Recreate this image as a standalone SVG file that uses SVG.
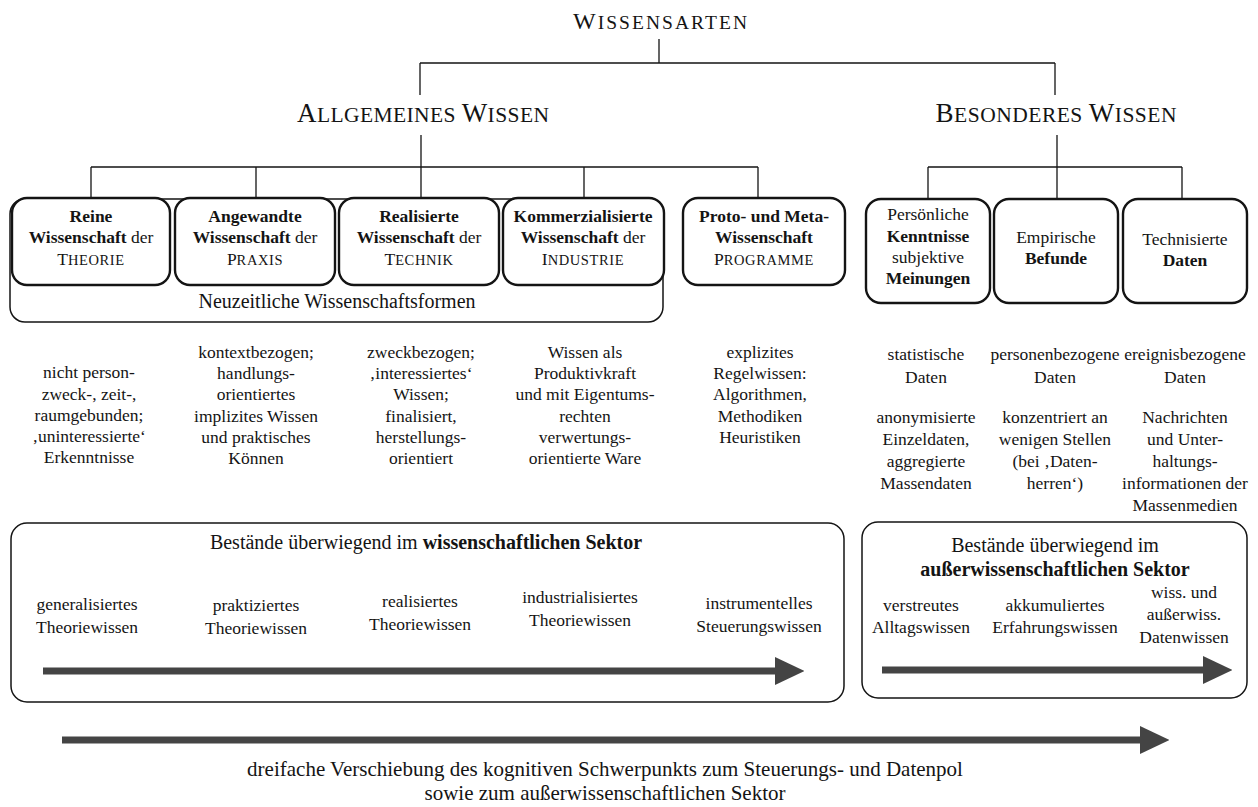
<svg xmlns="http://www.w3.org/2000/svg" width="1258" height="807" viewBox="0 0 1258 807">
<defs>
<style>
text{font-family:"Liberation Serif","Times New Roman",serif;fill:#141414;text-anchor:middle;font-size:17.5px}
.b{font-weight:bold}
.sc{font-size:14.5px;letter-spacing:0.6px}
.h{font-size:21.5px}
.hb{font-size:27px}
.m{font-size:20px}
.cap{font-size:21px}
.ln{fill:none;stroke:#141414;stroke-width:1.3}
.node{fill:#fff;stroke:#141414;stroke-width:2.4}
.frame{fill:#fff;stroke:#141414;stroke-width:1.5}
.arr{stroke:#444;stroke-width:7;fill:none;marker-end:url(#head)}
</style>
<marker id="head" markerUnits="strokeWidth" markerWidth="4.2" markerHeight="4" refX="0" refY="2" orient="auto" viewBox="0 0 4.2 4"><path d="M0,0 L4.2,2 L0,4 z" fill="#444"/></marker>
</defs>
<rect width="1258" height="807" fill="#fff"/>

<!-- headings -->
<g id="wissensarten">
<text x="660" y="29" style="font-size:19.5px" textLength="174" lengthAdjust="spacing"><tspan style="font-size:24px">W</tspan>ISSENSARTEN</text>
</g>
<g id="allgemeines-wissen">
<text class="h" x="423" y="122" textLength="252" lengthAdjust="spacing"><tspan class="hb">A</tspan>LLGEMEINES <tspan class="hb">W</tspan>ISSEN</text>
</g>
<g id="besonderes-wissen">
<text class="h" x="1056" y="122" textLength="241" lengthAdjust="spacing"><tspan class="hb">B</tspan>ESONDERES <tspan class="hb">W</tspan>ISSEN</text>
</g>

<!-- tree connectors -->
<g id="connectors" class="ln">
<path d="M659,39 V63 M420,63 H1055 M420,63 V95 M1055,63 V95"/>
<path d="M421,135 V198 M91,167 H758 M91,167 V198 M256,167 V198 M584,167 V198 M758,167 V198"/>
<path d="M1057,135 V199 M928,167 H1182 M928,167 V199 M1182,167 V199"/>
</g>

<!-- bracket for the modern forms of science -->
<g id="neuzeitliche-formen">
<rect class="frame" x="10" y="199" width="653" height="123" rx="15"/>
<text class="m" x="337" y="308">Neuzeitliche Wissenschaftsformen</text>
</g>

<g id="reine-wissenschaft">
<rect class="node" x="12" y="198" width="158" height="87" rx="15"/>
<text x="91" y="222" class="b">Reine</text>
<text x="91" y="243"><tspan class="b">Wissenschaft</tspan> der</text>
<text x="91" y="265">T<tspan class="sc">HEORIE</tspan></text>
</g>
<g id="angewandte-wissenschaft">
<rect class="node" x="175" y="198" width="160" height="87" rx="15"/>
<text x="255" y="222" class="b">Angewandte</text>
<text x="255" y="243"><tspan class="b">Wissenschaft</tspan> der</text>
<text x="255" y="265">P<tspan class="sc">RAXIS</tspan></text>
</g>
<g id="realisierte-wissenschaft">
<rect class="node" x="339" y="198" width="160" height="87" rx="15"/>
<text x="419" y="222" class="b">Realisierte</text>
<text x="419" y="243"><tspan class="b">Wissenschaft</tspan> der</text>
<text x="419" y="265">T<tspan class="sc">ECHNIK</tspan></text>
</g>
<g id="kommerzialisierte-wissenschaft">
<rect class="node" x="503" y="198" width="161" height="87" rx="15"/>
<text x="583" y="222" class="b">Kommerzialisierte</text>
<text x="583" y="243"><tspan class="b">Wissenschaft</tspan> der</text>
<text x="583" y="265">I<tspan class="sc">NDUSTRIE</tspan></text>
</g>
<g id="proto-meta-wissenschaft">
<rect class="node" x="683" y="198" width="162" height="87" rx="15"/>
<text x="764" y="222" class="b">Proto- und Meta-</text>
<text x="764" y="243" class="b">Wissenschaft</text>
<text x="764" y="265">P<tspan class="sc">ROGRAMME</tspan></text>
</g>

<g id="kenntnisse-meinungen">
<rect class="node" x="866" y="199" width="124" height="104" rx="15"/>
<text x="928" y="220">Persönliche</text>
<text x="928" y="242" class="b">Kenntnisse</text>
<text x="928" y="263">subjektive</text>
<text x="928" y="284" class="b">Meinungen</text>
</g>
<g id="empirische-befunde">
<rect class="node" x="994" y="199" width="124" height="104" rx="15"/>
<text x="1056" y="243">Empirische</text>
<text x="1056" y="264" class="b">Befunde</text>
</g>
<g id="technisierte-daten">
<rect class="node" x="1123" y="199" width="124" height="104" rx="15"/>
<text x="1185" y="245">Technisierte</text>
<text x="1185" y="266" class="b">Daten</text>
</g>

<!-- characterisations -->
<g id="merkmale-theorie">
<text x="89" y="378">nicht person-</text>
<text x="89" y="399.5">zweck-, zeit-,</text>
<text x="89" y="421">raumgebunden;</text>
<text x="89" y="442">‚uninteressierte‘</text>
<text x="89" y="463">Erkenntnisse</text>
</g>
<g id="merkmale-praxis">
<text x="256" y="358">kontextbezogen;</text>
<text x="256" y="379">handlungs-</text>
<text x="256" y="400">orientiertes</text>
<text x="256" y="422">implizites Wissen</text>
<text x="256" y="443">und praktisches</text>
<text x="256" y="464">Können</text>
</g>
<g id="merkmale-technik">
<text x="421" y="358">zweckbezogen;</text>
<text x="421" y="379">‚interessiertes‘</text>
<text x="421" y="400">Wissen;</text>
<text x="421" y="422">finalisiert,</text>
<text x="421" y="443">herstellungs-</text>
<text x="421" y="464">orientiert</text>
</g>
<g id="merkmale-industrie">
<text x="585" y="358">Wissen als</text>
<text x="585" y="379">Produktivkraft</text>
<text x="585" y="400">und mit Eigentums-</text>
<text x="585" y="422">rechten</text>
<text x="585" y="443">verwertungs-</text>
<text x="585" y="464">orientierte Ware</text>
</g>
<g id="merkmale-programme">
<text x="760" y="358">explizites</text>
<text x="760" y="379">Regelwissen:</text>
<text x="760" y="400">Algorithmen,</text>
<text x="760" y="422">Methodiken</text>
<text x="760" y="443">Heuristiken</text>
</g>
<g id="merkmale-kenntnisse">
<text x="926" y="360">statistische</text>
<text x="926" y="383">Daten</text>
<text x="926" y="423">anonymisierte</text>
<text x="926" y="445">Einzeldaten,</text>
<text x="926" y="467">aggregierte</text>
<text x="926" y="489">Massendaten</text>
</g>
<g id="merkmale-befunde">
<text x="1055" y="360">personenbezogene</text>
<text x="1055" y="383">Daten</text>
<text x="1055" y="423">konzentriert an</text>
<text x="1055" y="445">wenigen Stellen</text>
<text x="1055" y="467">(bei ‚Daten-</text>
<text x="1055" y="489">herren‘)</text>
</g>
<g id="merkmale-daten">
<text x="1185" y="360">ereignisbezogene</text>
<text x="1185" y="383">Daten</text>
<text x="1185" y="423">Nachrichten</text>
<text x="1185" y="445">und Unter-</text>
<text x="1185" y="467">haltungs-</text>
<text x="1185" y="489">informationen der</text>
<text x="1185" y="511">Massenmedien</text>
</g>

<!-- stocks in the scientific sector -->
<g id="wissenschaftlicher-sektor">
<rect class="frame" x="11" y="523" width="833" height="179" rx="16"/>
<text class="m" x="426" y="549">Bestände überwiegend im <tspan class="b">wissenschaftlichen Sektor</tspan></text>
<text x="87" y="610">generalisiertes</text>
<text x="87" y="633">Theoriewissen</text>
<text x="256" y="611">praktiziertes</text>
<text x="256" y="634">Theoriewissen</text>
<text x="420" y="607">realisiertes</text>
<text x="420" y="630">Theoriewissen</text>
<text x="580" y="603">industrialisiertes</text>
<text x="580" y="626">Theoriewissen</text>
<text x="759" y="609">instrumentelles</text>
<text x="759" y="632">Steuerungswissen</text>
<path class="arr" d="M43,671 H775"/>
</g>

<!-- stocks outside the scientific sector -->
<g id="ausserwissenschaftlicher-sektor">
<rect class="frame" x="862" y="522" width="385" height="176" rx="16"/>
<text class="m" x="1055" y="552">Bestände überwiegend im</text>
<text class="m b" x="1055" y="576">außerwissenschaftlichen Sektor</text>
<text x="921" y="611">verstreutes</text>
<text x="921" y="633">Alltagswissen</text>
<text x="1055" y="611">akkumuliertes</text>
<text x="1055" y="633">Erfahrungswissen</text>
<text x="1184" y="598">wiss. und</text>
<text x="1184" y="620">außerwiss.</text>
<text x="1184" y="643">Datenwissen</text>
<path class="arr" d="M882,670 H1203"/>
</g>

<!-- overall shift -->
<g id="verschiebung">
<path class="arr" d="M62,740 H1140"/>
<text class="cap" x="605" y="776">dreifache Verschiebung des kognitiven Schwerpunkts zum Steuerungs- und Datenpol</text>
<text class="cap" x="605" y="800">sowie zum außerwissenschaftlichen Sektor</text>
</g>
</svg>
